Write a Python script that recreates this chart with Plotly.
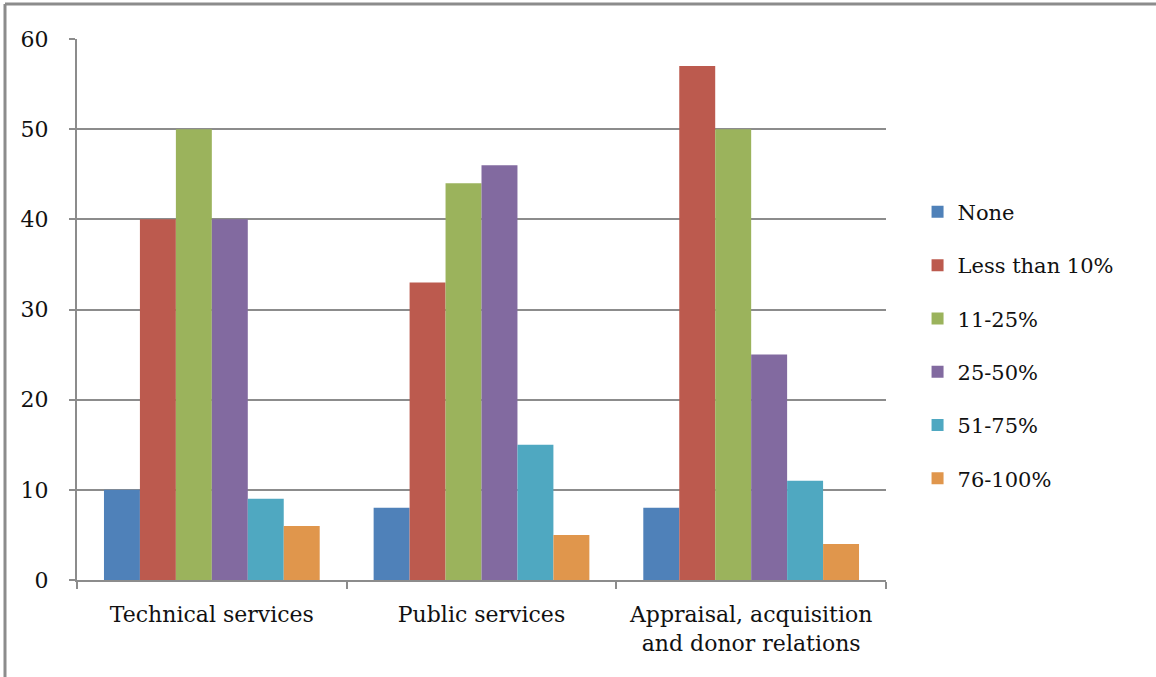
import plotly.graph_objects as go

categories = ["Technical services", "Public services", "Appraisal, acquisition<br>and donor relations"]
series_names = ["None", "Less than 10%", "11-25%", "25-50%", "51-75%", "76-100%"]
none_vals = [10, 8, 8]
lt10_vals = [40, 33, 57]
p11_25_vals = [50, 44, 50]
p25_50_vals = [40, 46, 25]
p51_75_vals = [9, 15, 11]
p76_100_vals = [6, 5, 4]
series_values = [none_vals, lt10_vals, p11_25_vals, p25_50_vals, p51_75_vals, p76_100_vals]
colors = ["#4F81B9", "#BC5A4E", "#9BB35C", "#826AA0", "#4FA8C1", "#E0964C"]
y_ticks = [0, 10, 20, 30, 40, 50, 60]

FONT = "DejaVu Serif, serif"
FS = 22
FS_LEG = 21
TXT = "#111111"
GRAY = "#8c8c8c"

fig = go.Figure()
for name, vals, col in zip(series_names, series_values, colors):
    fig.add_trace(go.Bar(
        x=categories, y=vals, name=name, legendgroup=name,
        marker=dict(color=col, line=dict(width=0)),
    ))

W, H = 1156, 677
L, R, T, B = 77, 270, 39, 97
PW, PH = W - L - R, H - T - B

fig.update_layout(
    width=W, height=H,
    margin=dict(l=L, r=R, t=T, b=B),
    paper_bgcolor="white", plot_bgcolor="white",
    barmode="group", bargap=0.2, bargroupgap=0,
    font=dict(family=FONT, size=FS, color=TXT),
    showlegend=True,
    legend=dict(
        x=1.039, y=0.434, xanchor="left", yanchor="middle",
        font=dict(family=FONT, size=FS_LEG, color=TXT),
        tracegroupgap=23, itemwidth=30, bgcolor="rgba(0,0,0,0)",
    ),
    xaxis=dict(
        showline=True, linecolor=GRAY, linewidth=2,
        ticks="outside", ticklen=7, tickwidth=2, tickcolor=GRAY,
        tickson="boundaries", showgrid=False,
        tickfont=dict(family=FONT, size=FS, color=TXT),
        ticklabelstandoff=14,
    ),
    yaxis=dict(
        range=[0, 60], tickvals=y_ticks, showline=True, linecolor=GRAY, linewidth=2,
        ticks="outside", ticklen=6, tickwidth=2, tickcolor=GRAY,
        showgrid=True, gridcolor=GRAY, gridwidth=2, zeroline=False,
        tickfont=dict(family=FONT, size=FS, color=TXT),
        ticklabelstandoff=16,
    ),
    shapes=[
        dict(type="line", xref="paper", yref="paper",
             x0=(5 - L) / PW, x1=(W + 10 - L) / PW,
             y0=(H - B - 4) / PH, y1=(H - B - 4) / PH,
             line=dict(color=GRAY, width=3)),
        dict(type="line", xref="paper", yref="paper",
             x0=(5 - L) / PW, x1=(5 - L) / PW,
             y0=(H - B - 4) / PH, y1=-(B + 10) / PH,
             line=dict(color=GRAY, width=3)),
    ],
)

fig.write_html(
    "out.html",
    config={"displayModeBar": False},
    post_script="document.body.style.margin='0';document.body.style.overflow='hidden';",
)
